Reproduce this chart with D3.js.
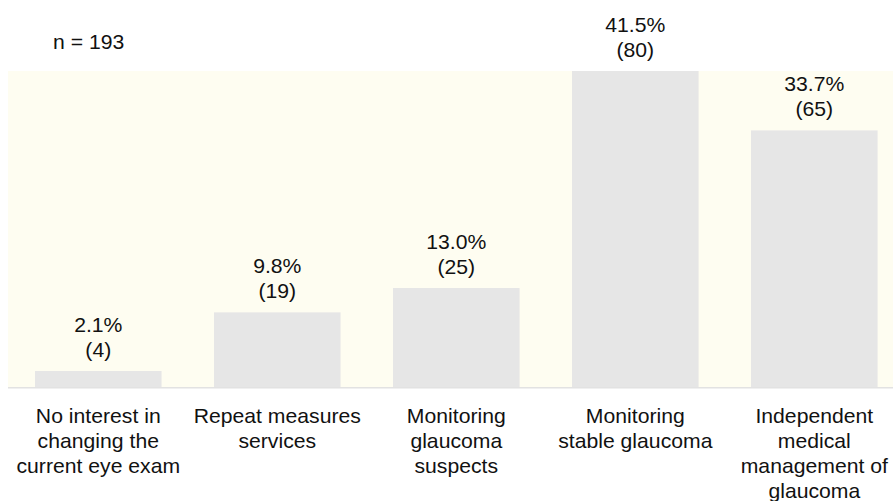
<!DOCTYPE html>
<html>
<head>
<meta charset="utf-8">
<script src="https://cdn.jsdelivr.net/npm/d3@7"></script>
<style>
  html, body { margin: 0; padding: 0; background: #ffffff; }
  svg { display: block; }
  text { font-family: "Liberation Sans", Arial, Helvetica, sans-serif; fill: #111111; }
</style>
</head>
<body>
<div id="chart"></div>
<script>
// Reasons given (share of respondents and count)
const categories = [
  "No interest in changing the current eye exam",
  "Repeat measures services",
  "Monitoring glaucoma suspects",
  "Monitoring stable glaucoma",
  "Independent medical management of glaucoma"
];
const categoryLines = [
  ["No interest in", "changing the", "current eye exam"],
  ["Repeat measures", "services"],
  ["Monitoring", "glaucoma", "suspects"],
  ["Monitoring", "stable glaucoma"],
  ["Independent", "medical", "management of", "glaucoma"]
];
const percents = [2.1, 9.8, 13.0, 41.5, 33.7];
const counts = [4, 19, 25, 80, 65];
const sampleLabel = "n = 193";

const W = 893, H = 501;
const fontSize = 20;
const stretch = 1.06;
const lineGap = 25;

const svg = d3.select("#chart").append("svg")
  .attr("width", W).attr("height", H);

const plotLeft = 8, plotRight = 893;
const baseY = 387, topY = 71;

const x = d3.scaleBand()
  .domain(categories)
  .range([35, 877.6])
  .paddingInner(0.293)
  .paddingOuter(0);

const y = d3.scaleLinear()
  .domain([0, d3.max(percents)])
  .range([baseY, topY]);

// pale plot background
svg.append("rect")
  .attr("x", plotLeft).attr("y", y(d3.max(percents)))
  .attr("width", plotRight - plotLeft)
  .attr("height", baseY - y(d3.max(percents)))
  .attr("fill", "#fefdf1");

// bars
svg.selectAll("rect.bar")
  .data(categories)
  .join("rect")
  .attr("class", "bar")
  .attr("x", d => x(d))
  .attr("width", x.bandwidth())
  .attr("y", (d, i) => y(percents[i]))
  .attr("height", (d, i) => y(0) - y(percents[i]))
  .attr("fill", "#e6e6e6");

// baseline
svg.append("line")
  .attr("x1", plotLeft).attr("x2", plotRight)
  .attr("y1", baseY + 0.75).attr("y2", baseY + 0.75)
  .attr("stroke", "#e2e2e2").attr("stroke-width", 1.5);

function stretchedText(g, tx, ty, str, anchor) {
  return g.append("text")
    .attr("transform", `translate(${tx},${ty}) scale(${stretch},1)`)
    .attr("text-anchor", anchor || "middle")
    .attr("font-size", fontSize)
    .text(str);
}

// value labels above bars
const valueG = svg.append("g");
categories.forEach((c, i) => {
  const cx = x(c) + x.bandwidth() / 2;
  const top = y(percents[i]);
  stretchedText(valueG, cx, top - 14 - lineGap, percents[i].toFixed(1) + "%");
  stretchedText(valueG, cx, top - 14, "(" + counts[i] + ")");
});

// category labels
const catG = svg.append("g");
categories.forEach((c, i) => {
  const cx = x(c) + x.bandwidth() / 2;
  categoryLines[i].forEach((ln, j) => {
    stretchedText(catG, cx, 422.5 + j * lineGap, ln);
  });
});

// sample size note
stretchedText(svg, 53, 49, sampleLabel, "start");
</script>
</body>
</html>
